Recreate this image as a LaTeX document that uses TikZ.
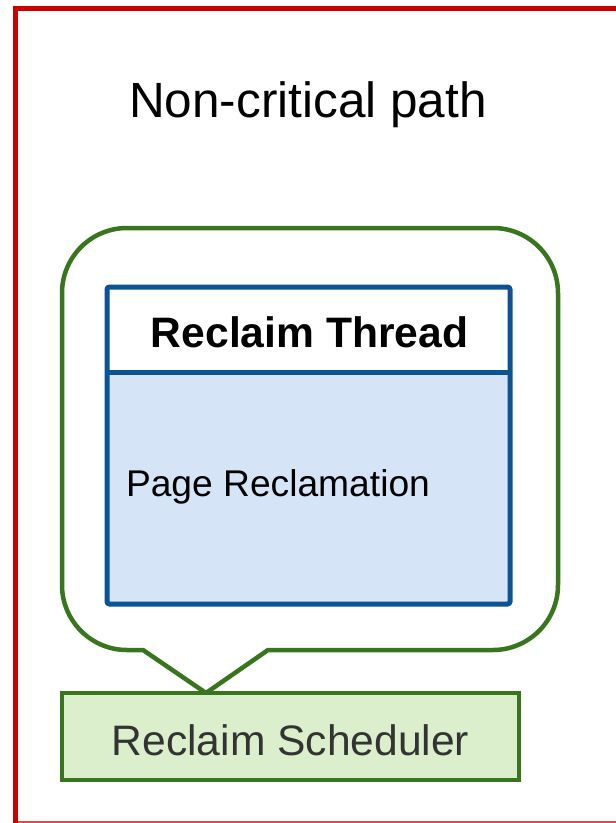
\documentclass[tikz,border=0pt]{standalone}
\usepackage{fontspec}
\setmainfont{Liberation Sans}
\definecolor{framered}{HTML}{CC0000}
\definecolor{framered2}{HTML}{E04848}
\definecolor{bubblegreen}{HTML}{38761D}
\definecolor{schedfill}{HTML}{DCEFCC}
\definecolor{threadblue}{HTML}{0B5394}
\definecolor{threadfill}{HTML}{D5E5F7}
\definecolor{darktext}{HTML}{333333}
\begin{document}
\begin{tikzpicture}[x=1pt,y=-1pt,
  label/.style={inner sep=0pt, outer sep=0pt},
  blueline/.style={draw=threadblue, line width=5pt},
  bubble/.style={draw=bubblegreen, line width=4.5pt, line join=miter},
  schedbox/.style={draw=bubblegreen, fill=schedfill, line width=3.5pt,
                   minimum width=457pt, minimum height=87pt, inner sep=0pt},
  areabox/.style={inner sep=0pt, outer sep=0pt, minimum width=403pt}
]
\useasboundingbox (0,0) rectangle (616,823);

% outer frame of the non-critical path region
\coordinate (ftl) at (15.5,8.5);
\coordinate (fbl) at (15.5,823);
\coordinate (ftr) at (616,8.5);
\coordinate (fbl2) at (15.5,822);
\coordinate (fbr) at (616,822);
\draw[framered2, line width=1.5pt] (fbl2) -- (fbr);
\draw[framered, line width=5.5pt, line cap=rect] (fbl) -- (ftl) -- (ftr);

\node[label, anchor=base, font=\fontsize{49.5}{52}\selectfont] (title) at (308,117) {Non-critical path};

% speech bubble around the reclaim thread
\draw[bubble]
  (143,650) -- (127,650) arc[start angle=90, end angle=180, radius=65]
  -- (62,293) arc[start angle=180, end angle=270, radius=65]
  -- (493,228) arc[start angle=270, end angle=360, radius=65]
  -- (558,585) arc[start angle=0, end angle=90, radius=65]
  -- (268,650) -- (206,693) -- cycle;

% reclaim thread box
\node[areabox, fill=threadfill, minimum height=232pt] (body) at (308.5,488) {};
\node[areabox, minimum height=85pt] (head) at (308.5,329.5) {};
\draw[blueline, rounded corners=2.5pt] (head.north west) rectangle (body.south east);
\draw[blueline] (body.north west) -- (body.north east);
\node[label, anchor=base, font=\fontsize{42.6}{44}\selectfont\bfseries] (headtext) at (309.5,347) {Reclaim Thread};
\node[label, anchor=base west, font=\fontsize{37.2}{39}\selectfont] (pagerec) at (126,496) {Page Reclamation};

% scheduler
\node[schedbox] (sched) at (290.5,736.5) {};
\node[label, anchor=base, text=darktext, font=\fontsize{42.6}{44}\selectfont] (schedtext) at (sched.center |- 0,755) {Reclaim Scheduler};
\end{tikzpicture}
\end{document}
